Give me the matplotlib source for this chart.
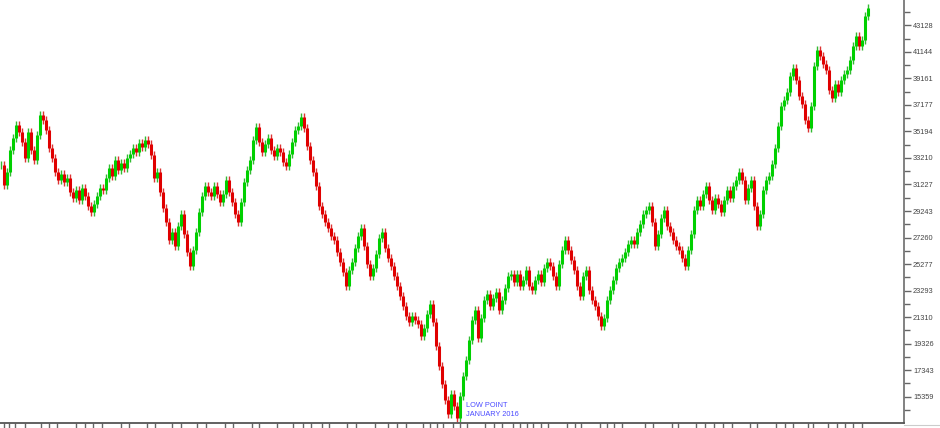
import numpy as np
import matplotlib
matplotlib.use("Agg")
import matplotlib.pyplot as plt
from matplotlib.lines import Line2D

# ---- data (closing prices, one bar per step) ----
close = [
    # A
    32680, 31190, 32160, 33800, 34700, 35670, 35150, 34400, 33210, 35150, 33800, 33060, 34930, 36420, 36050, 35300, 33950, 33210, 32160, 31560, 32010,
    # B
    31410, 31710, 30660, 30220, 30810, 30070, 30960, 30370, 29620, 29170, 29770, 30370, 30960, 30810, 31710, 32460, 31860, 33060, 32310, 32830,
    # C
    32460, 33210, 33510, 33950, 33650, 34330, 34030, 34550, 34250, 33430, 31710, 32160, 30660, 29470, 28420, 27080, 27670, 26630, 28120, 29020,
    27520, 26180, 25130, 26330, 27670, 29170,
    # D
    30370, 31110, 30660, 30370, 31110, 30510, 29920, 30510, 31560, 30660, 29920, 29020, 28420, 29920, 31410, 32310, 33060, 34550, 35520, 34400,
    33650, 34250, 34700, 33800, 33360, 33950, 33650, 32910, 32610, 33510, 34400, 35300, 35600, 36270, 35450, 34100,
    # E
    33060, 32160, 31110, 29620, 29020, 28420, 27970, 27370, 27080, 26180, 25430, 24680, 23640, 24830, 25430, 26480, 27370, 27970, 26630, 25280,
    24380, 24980, 26030, 27220, 27670, 26480, 25730, 25130, 24380, 23640, 22890,
    # F
    22140, 21390, 20940, 21390, 21090, 20800, 19900, 20500, 21540, 22290, 20940, 19150, 17650, 16310, 15110, 14070, 15560, 14660, 13770, 15410,
    16910, 18100, 19600, 21090, 21840, 19750, 21240, 22590,
    # G
    23040, 22140, 22740, 23190, 21840, 22590, 23490, 24380, 24530, 23940, 24530, 23640, 24080, 24830, 23640, 23340, 24080, 24530, 23940, 24980,
    25430, 25130, 24380, 23640, 25280, 26330, 27080, 26330, 25580, 24830, 23640, 22890, 24380, 24830, 23340, 22590, 22140, 21390, 20650, 21240,
    # H
    22590, 23340, 24080, 24980, 25430, 25730, 26180, 26780, 27080, 26780, 27670, 28270, 29020, 29320, 29620, 28420, 26630, 27520, 28720, 29320,
    28120, 27670, 27080, 26630, 26330, 25730, 25130, 26330, 27520, 29320, 30070, 29620,
    # I
    30510, 31110, 30070, 29320, 30220, 29770, 29170, 30070, 30810, 30220, 31110, 31560, 32160, 31560, 30070, 30960, 31560, 29620, 28120, 29020,
    30810, 31560, 31860, 32760, 33950, 35600, 37090, 37540, 38140, 39340, 39940, 39040, 37840,
    # J
    37240, 36050, 35450, 37090, 40090, 41280, 40830, 40240, 39790, 38290, 37690, 38740, 38140, 39040, 39490, 39790, 40530, 41580, 42330, 41580,
    42030, 43820, 44420,
]

ytick_values = [15359, 17343, 19326, 21310, 23293, 25277, 27260, 29243,
                31227, 33210, 35194, 37177, 39161, 41144, 43128]

annot_lines = ["LOW POINT", "JANUARY 2016"]

# bottom-axis tick marks (pixel columns of the reference, irregular month marks)
tick_px = [4, 9, 15, 25, 41, 49, 57, 76, 85, 93, 102, 121, 129, 147, 155, 172, 181,
           197, 206, 225, 233, 252, 259, 277, 293, 303, 311, 322, 329, 347, 356, 375,
           388, 397, 406, 423, 430, 437, 443, 453, 460, 467, 485, 494, 502, 513, 520,
           527, 533, 541, 548, 567, 575, 581, 600, 607, 614, 622, 645, 653, 672, 678,
           696, 705, 714, 723, 732, 750, 757, 776, 785, 793, 808, 813, 828, 837, 845,
           853, 862]

# ---- figure ----
W, H = 940, 428
fig = plt.figure(figsize=(W / 100, H / 100), dpi=100)
fig.patch.set_facecolor("white")
ax_right_px, ax_bottom_px = 904, 423
ax = fig.add_axes([0, 1 - ax_bottom_px / H, ax_right_px / W, ax_bottom_px / H])
ax.set_facecolor("white")

c = np.array(close, dtype=float)
o = np.r_[c[0], c[:-1]]
x = np.arange(len(c))
up = c >= o
lo = np.minimum(o, c)
hi = np.maximum(o, c)
cols = np.where(up, "#00d000", "#e00000")
wick_cols = np.where(up, "#33bb33", "#dd3333")

# wicks (drawing style: a fixed shadow length around each body)
wick_pad = 320
ax.vlines(x, lo - wick_pad, hi + wick_pad, colors=wick_cols, linewidth=1.0)
# bodies
ax.vlines(x, lo, hi, colors=cols, linewidth=2.2)

px_per_bar = 3.0
ax.set_xlim(-1 / px_per_bar, (ax_right_px - 1) / px_per_bar)
ax.set_ylim(13393, 45020)

# spines
for s in ["left", "top"]:
    ax.spines[s].set_visible(False)
ax.spines["right"].set_color("#777777")
ax.spines["right"].set_linewidth(1.3)
ax.spines["bottom"].set_color("#555555")
ax.spines["bottom"].set_linewidth(1.3)

# y axis on the right
ax.yaxis.tick_right()
ax.set_yticks(ytick_values)
ax.set_yticklabels([str(v) for v in ytick_values])
step = ytick_values[1] - ytick_values[0]
minor = [ytick_values[0] - step / 2] + \
        [(a + b) / 2 for a, b in zip(ytick_values[:-1], ytick_values[1:])] + \
        [ytick_values[-1] + step / 2]
ax.set_yticks(minor, minor=True)
ax.tick_params(axis="y", which="major", length=5, width=1, color="#666666",
               pad=1.5, labelsize=5.3, labelcolor="#444444", direction="out")
ax.tick_params(axis="y", which="minor", length=4, width=1, color="#666666", direction="out")
for lab in ax.get_yticklabels():
    lab.set_fontfamily("Liberation Sans")

# x ticks (no labels)
ax.set_xticks([(p - 1) / px_per_bar for p in tick_px])
ax.set_xticklabels([])
ax.tick_params(axis="x", which="major", length=5, width=1, color="#666666", direction="out")

# annotation
low_i = int(np.argmin(c))
ax.text(low_i + 3, 14738, annot_lines[0], color="#4a4aff", fontsize=5.3,
        family="Liberation Sans", va="center", ha="left")
ax.text(low_i + 3, 14065, annot_lines[1], color="#4a4aff", fontsize=5.3,
        family="Liberation Sans", va="center", ha="left")

# light line continuing to the right edge under the price scale
fig.add_artist(Line2D([ax_right_px / W, 1], [1 - 424.5 / H, 1 - 424.5 / H],
                      color="#cccccc", linewidth=0.8))

fig.savefig("out.png", dpi=100)
